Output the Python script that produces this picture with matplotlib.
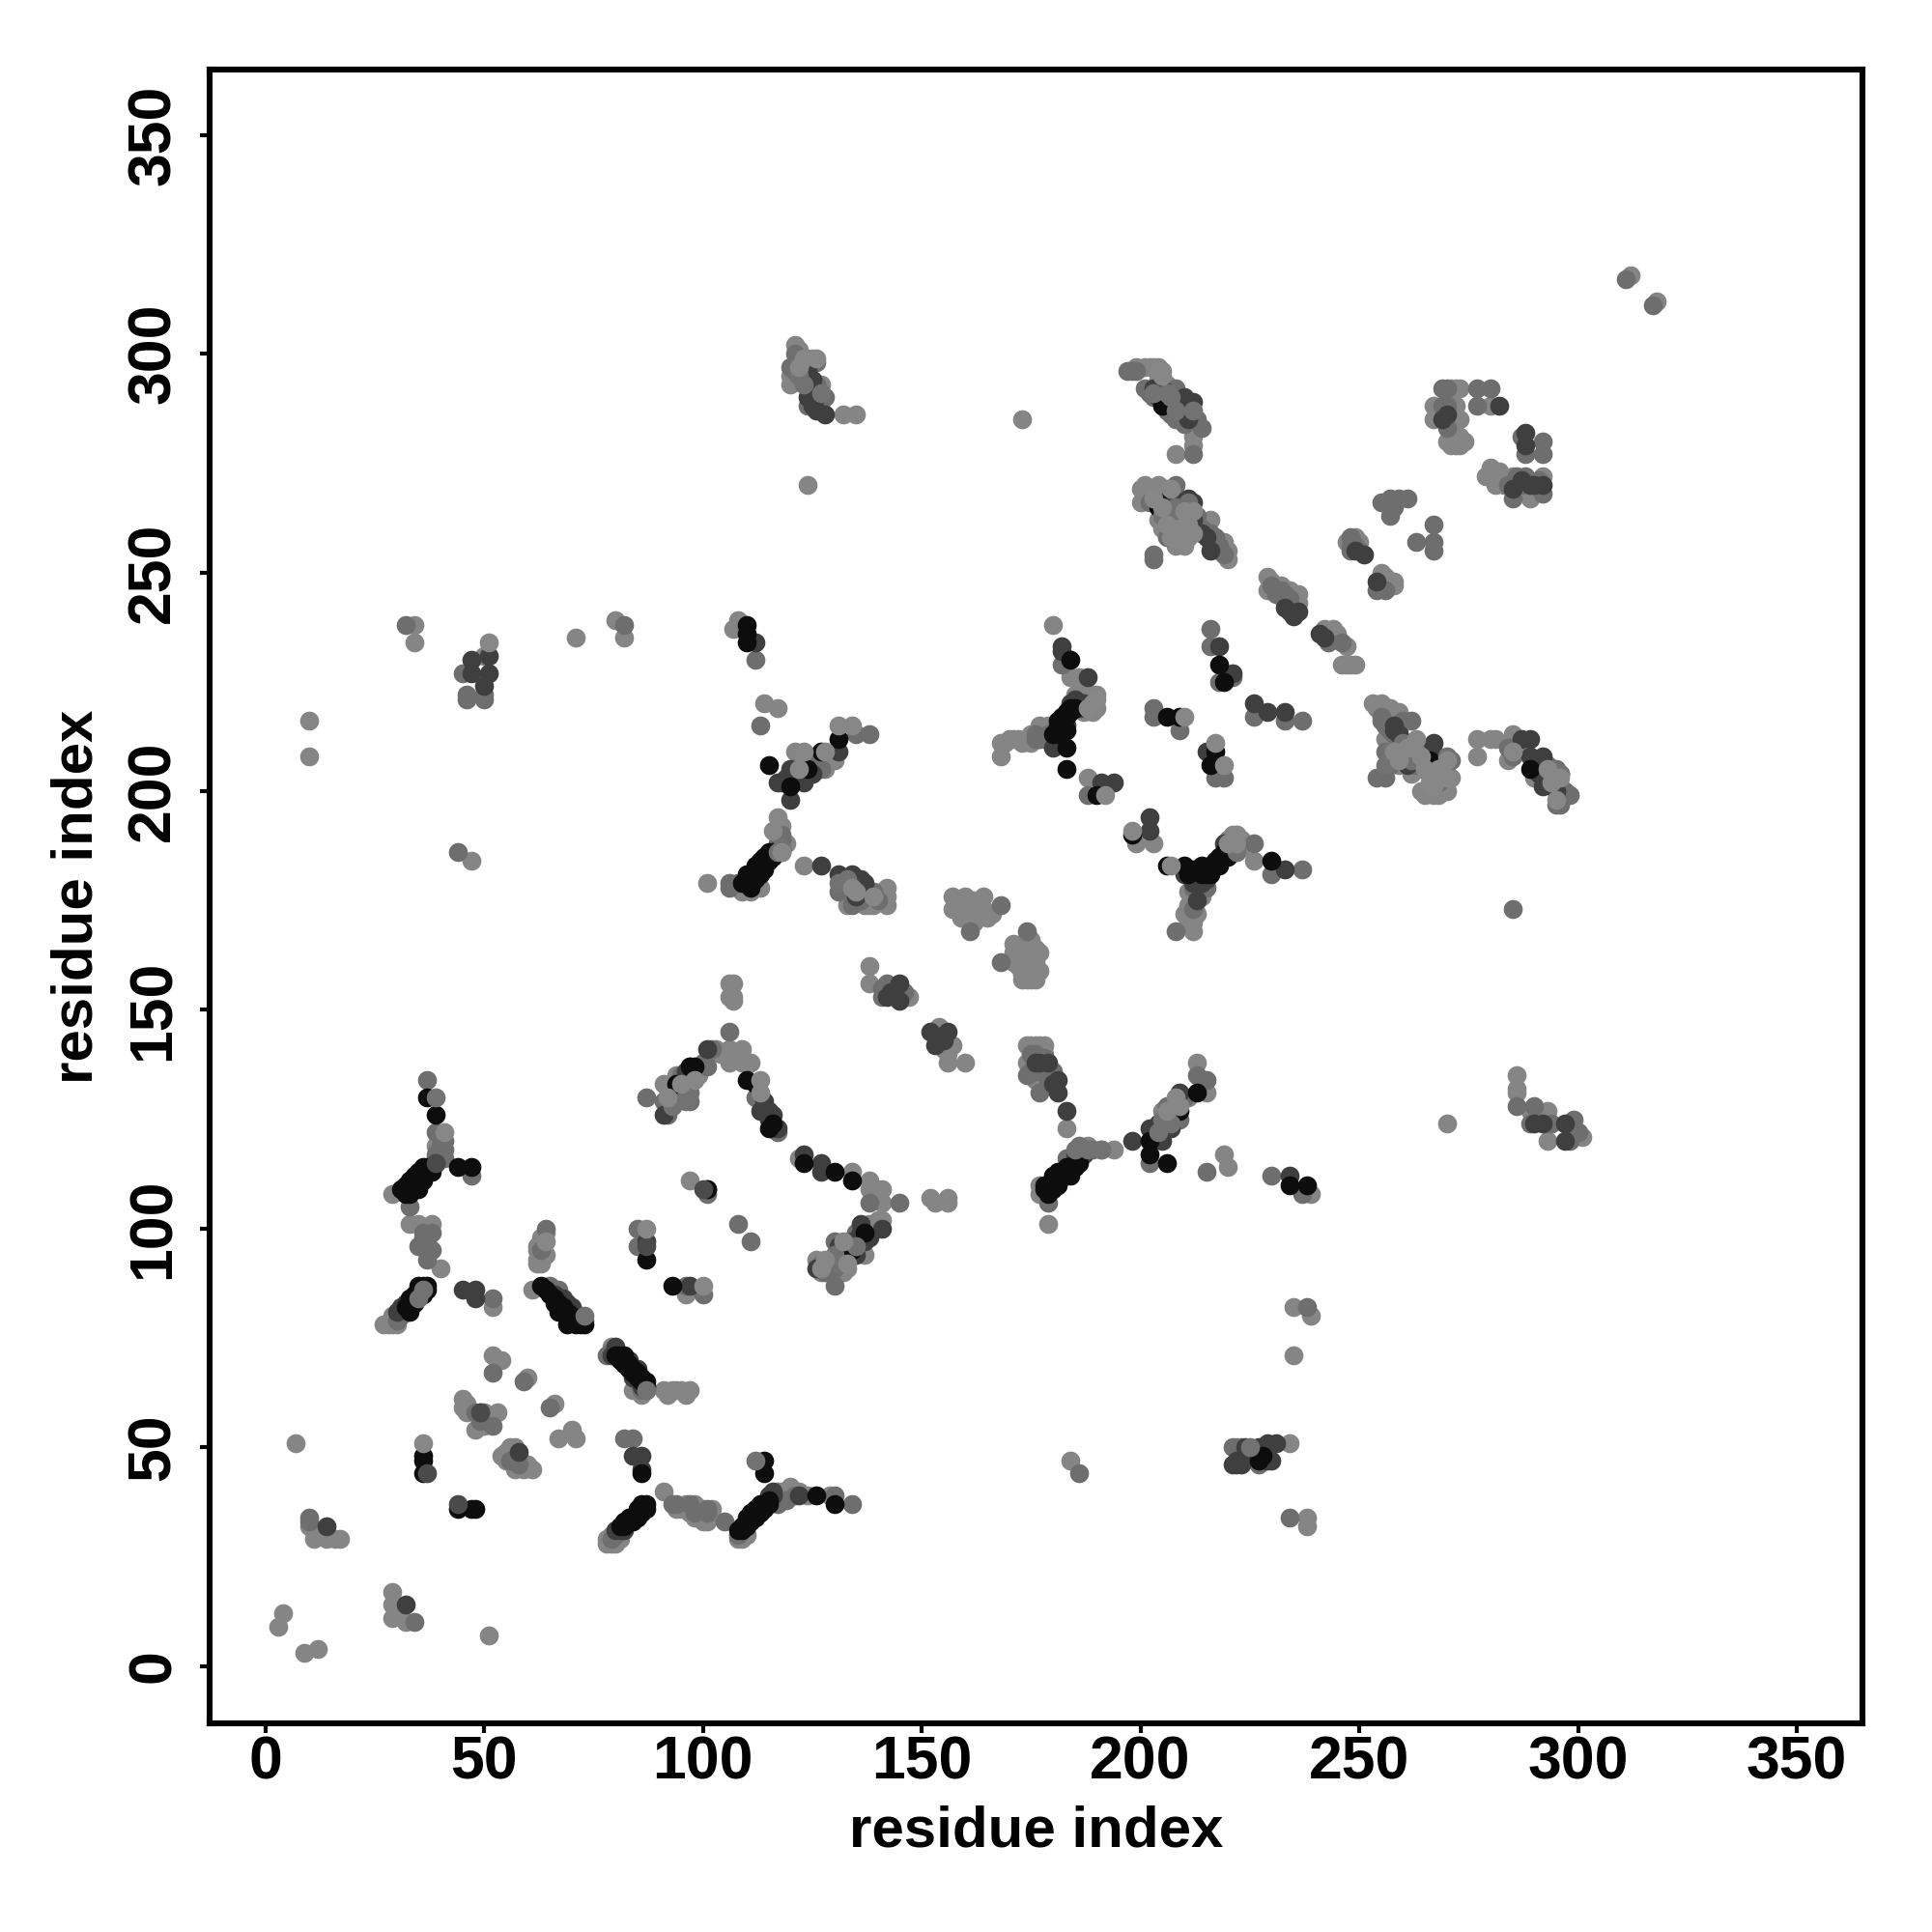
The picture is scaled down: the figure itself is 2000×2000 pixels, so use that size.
"""
Residue contact map, grey shade = contact strength.
"""
import matplotlib
matplotlib.use("Agg")
import matplotlib.pyplot as plt

plt.rcParams["font.family"] = ["Liberation Sans", "DejaVu Sans"]
plt.rcParams["font.weight"] = "bold"

# (residue, residue), grouped by grey level
light = [
    (4, 12), (3, 9), (9, 3), (12, 4), (51, 7), (29, 17), (29, 14), (29, 11), (32, 10), (30, 13),
    (7, 51), (10, 32), (11, 29), (14, 29), (16, 29), (17, 29), (54, 48), (56, 50), (57, 45), (59, 45), (61, 45),
    (67, 52), (70, 54), (71, 52), (45, 61), (45, 59), (48, 54), (52, 71), (54, 70),
    (60, 66), (66, 60), (91, 40), (97, 35), (100, 33), (95, 36), (108, 29), (109, 31),
    (79, 28), (78, 29), (79, 30), (86, 62), (84, 63), (91, 63), (93, 63), (96, 62), (61, 86),
    (27, 78), (29, 80), (52, 82), (33, 101), (35, 101), (62, 96), (63, 93), (62, 93),
    (97, 111), (29, 108), (96, 85),
    (10, 216), (10, 208), (47, 184), (34, 238), (34, 234), (50, 231), (71, 235), (80, 239), (82, 235),
    (108, 239), (107, 237), (114, 220), (117, 219), (101, 179), (109, 177), (111, 177),
    (106, 156), (107, 156), (106, 153), (107, 152), (107, 153), (106, 141), (106, 138), (109, 141), (111, 138), (109, 138),
    (91, 133), (94, 130), (40, 91), (39, 119),
    (123, 183), (142, 178), (142, 176), (142, 174), (138, 174), (138, 176), (134, 177),
    (157, 176), (157, 173), (160, 176), (164, 176), (161, 173), (164, 173), (165, 171), (161, 171), (163, 171),
    (171, 165), (171, 161), (176, 164), (176, 161), (173, 157), (176, 157), (173, 161), (176, 159), (172, 163), (171, 163),
    (138, 160), (138, 156), (180, 238), (168, 211), (168, 208), (171, 212), (174, 212), (177, 215), (184, 226), (186, 226),
    (186, 221), (188, 221), (188, 203), (199, 188), (203, 188),
    (253, 220), (255, 220), (257, 219), (256, 218), (258, 216), (257, 210), (259, 206), (262, 204), (270, 204), (266, 200), (270, 200),
    (277, 212), (280, 212), (281, 212), (277, 208), (285, 212), (285, 213),
    (201, 297), (202, 297), (205, 296), (212, 281), (212, 279), (208, 277),
    (201, 270), (200, 266), (204, 270), (204, 262), (216, 262), (219, 257), (220, 255), (220, 253),
    (229, 249), (229, 246), (232, 247), (235, 245), (236, 243), (243, 236), (245, 236), (246, 229), (249, 229), (247, 233),
    (247, 257), (255, 249), (256, 249), (258, 247), (255, 247),
    (272, 292), (267, 288), (272, 288), (267, 285), (272, 285), (270, 280), (272, 279), (274, 280),
    (280, 288), (280, 274), (279, 272), (281, 270), (285, 272), (289, 267), (292, 272),
    (212, 168), (212, 170), (211, 174), (226, 184), (222, 190), (221, 189), (296, 201), (296, 199),
    (157, 142), (156, 138), (160, 138), (147, 153), (174, 142), (177, 142), (178, 142), (174, 138), (177, 135),
    (183, 123), (213, 138), (215, 131), (205, 127), (194, 118), (188, 119), (177, 110), (177, 108), (179, 101),
    (219, 117), (220, 114), (239, 108), (235, 82), (239, 80), (235, 71), (238, 34), (238, 32), (184, 47), (234, 51), (222, 50),
    (118, 40), (122, 40), (119, 39), (122, 116), (134, 113), (138, 111), (141, 109), (138, 109), (141, 106),
    (152, 107), (153, 106), (156, 107), (156, 106), (141, 102), (138, 101), (137, 98), (137, 94), (126, 93), (133, 91),
    (121, 302), (124, 299), (125, 299), (120, 293), (127, 293), (127, 289), (132, 286), (135, 286), (124, 270), (173, 285),
    (286, 135), (286, 132), (286, 131), (289, 127), (293, 127), (293, 120), (301, 121), (299, 121), (270, 124),
    (318, 312), (312, 318),
    # denser parts of the clusters
    (28, 78), (29, 78), (30, 78), (79, 73), (78, 28), (80, 29), (80, 28), (81, 29), (109, 29), (110, 30),
    (108, 178), (112, 178), (113, 178), (187, 222), (189, 222), (190, 222), (188, 222), (220, 189), (223, 189),
    (222, 189), (223, 187), (222, 186), (221, 190), (214, 176), (210, 172), (211, 170), (213, 172), (212, 175),
    (211, 177), (213, 177), (214, 177), (92, 128), (92, 132), (95, 131), (96, 133), (93, 132), (99, 135), (94, 135),
    (103, 141), (104, 140), (107, 139), (38, 101), (46, 60), (46, 58), (50, 58), (50, 55), (51, 57), (49, 55), (53, 58),
    (55, 47), (58, 48), (55, 49), (57, 50), (60, 46), (62, 95), (64, 99), (63, 98), (64, 94), (63, 92), (62, 92),
    (92, 62), (94, 63), (97, 63), (95, 63), (129, 90), (127, 90), (132, 90), (136, 95), (139, 100), (140, 102),
    (121, 209), (126, 208), (128, 205), (130, 207), (141, 177), (137, 174), (133, 174), (139, 174), (154, 146),
    (155, 141), (156, 142), (156, 140), (175, 142), (176, 142), (176, 134), (178, 140), (207, 127), (211, 130),
    (202, 268), (203, 266), (200, 269), (205, 268), (206, 269), (206, 264), (205, 260), (208, 261), (210, 259), (208, 256),
    (199, 297), (203, 297), (204, 297), (204, 294), (206, 293), (212, 283), (213, 283), (230, 248), (233, 246), (234, 246),
    (235, 243), (236, 245), (242, 237), (244, 235), (248, 229), (247, 229), (244, 237), (249, 258), (250, 257),
    (256, 248), (257, 247), (258, 248), (255, 250), (254, 219), (256, 219), (257, 217), (259, 218), (258, 214), (256, 216),
    (256, 212), (259, 212), (258, 208), (264, 205), (269, 202), (271, 203), (267, 199), (268, 199), (265, 199), (264, 200),
    (286, 210), (284, 207), (290, 203), (282, 271), (283, 270), (281, 273), (282, 273), (283, 271), (271, 292), (273, 292),
    (271, 288), (273, 285), (271, 281), (273, 279), (271, 279), (273, 281), (120, 295), (122, 301), (158, 175), (159, 174),
    (162, 175), (160, 172), (162, 170), (159, 171), (163, 175), (166, 172), (162, 174), (172, 160), (174, 159), (175, 158),
    (174, 157), (175, 157), (177, 163), (175, 166), (173, 165), (177, 159), (174, 163), (173, 158), (120, 41), (117, 40),
    (116, 38), (124, 39), (129, 39), (94, 36), (96, 37), (98, 37), (99, 36), (98, 34), (101, 33), (102, 36), (100, 36), (99, 34),
    (117, 190), (118, 192), (119, 188), (118, 188), (185, 222), (187, 218), (188, 220), (189, 218), (187, 221), (186, 220),
    (190, 219), (169, 211), (170, 212), (172, 212), (173, 211), (175, 211), (177, 212), (179, 215), (178, 214), (175, 213),
]
mid = [
    (34, 10), (10, 34), (10, 33), (52, 67), (59, 65), (65, 59), (82, 52), (84, 52), (93, 37), (97, 37), (101, 35), (105, 33),
    (80, 30), (78, 71), (79, 72), (87, 63), (65, 87), (67, 86), (52, 84), (37, 93), (37, 97), (35, 96),
    (64, 100), (63, 95), (85, 100), (85, 96), (101, 108), (108, 101), (111, 97), (96, 87), (100, 85), (33, 105), (47, 112),
    (44, 186), (32, 238), (45, 227), (46, 222), (46, 221), (50, 222), (50, 221), (82, 238), (112, 230), (113, 215),
    (106, 179), (106, 178), (106, 145), (102, 141), (101, 137), (97, 129), (87, 130), (91, 129), (37, 134), (39, 122),
    (41, 118), (39, 115), (131, 177), (134, 174), (161, 168), (168, 174), (174, 168), (168, 161),
    (142, 156), (141, 153), (118, 190), (118, 189), (127, 205), (135, 213), (138, 213),
    (182, 229), (188, 199), (176, 213), (203, 219), (203, 217), (209, 214), (216, 237), (216, 233), (221, 226), (218, 225),
    (217, 203), (219, 203), (226, 217), (233, 216), (237, 216), (262, 216), (257, 206), (254, 203), (256, 203), (285, 208),
    (197, 296), (201, 292), (208, 292), (208, 285), (213, 285), (212, 277), (208, 270), (203, 254), (203, 253),
    (217, 258), (218, 255), (249, 256), (255, 266), (257, 266), (257, 263), (261, 267), (267, 261), (263, 257), (267, 257), (267, 255),
    (270, 292), (270, 288), (277, 292), (280, 292), (277, 288), (287, 281), (292, 280), (288, 277), (292, 277), (288, 272), (285, 267),
    (208, 168), (215, 178), (212, 173), (226, 188), (237, 182), (230, 181), (295, 205), (296, 197), (295, 197), (285, 173),
    (174, 135), (177, 131), (179, 134), (213, 135), (215, 134), (209, 125), (205, 124), (202, 115), (191, 118), (179, 106),
    (215, 113), (230, 112), (237, 108), (238, 82), (234, 34), (186, 44), (221, 50), (227, 46),
    (130, 39), (134, 37), (145, 106), (138, 106), (133, 97), (130, 97), (130, 93), (130, 91), (128, 92), (130, 87),
    (120, 297), (121, 300), (124, 288), (128, 290), (311, 317), (317, 311),
    (286, 128), (290, 128), (289, 124), (294, 124), (299, 125), (298, 120), (300, 122),
    # denser parts of the clusters
    (30, 79), (31, 80), (73, 79), (86, 63), (85, 65), (79, 29), (108, 30), (108, 179), (189, 118), (183, 116),
    (179, 213), (178, 212), (177, 212), (176, 212), (187, 219), (212, 178), (213, 178), (92, 126), (93, 128), (96, 131),
    (100, 138), (95, 135), (112, 130), (117, 122), (40, 119), (41, 120), (39, 117), (41, 116), (40, 117), (38, 99), (36, 98),
    (37, 95), (36, 99), (38, 95), (48, 58), (49, 56), (52, 55), (56, 47), (58, 46), (57, 47), (127, 92), (128, 90), (129, 92),
    (131, 95), (132, 95), (135, 99), (125, 208), (126, 206), (133, 178), (135, 179), (136, 175), (139, 177), (140, 175),
    (136, 178), (141, 155), (146, 154), (175, 140), (175, 136), (176, 140), (176, 136), (178, 136), (178, 139), (180, 136),
    (204, 121), (206, 128), (210, 130), (202, 266), (205, 264), (207, 268), (209, 262), (209, 265), (207, 260), (206, 258),
    (211, 260), (211, 264), (210, 258), (213, 263), (214, 260), (216, 259), (216, 257), (218, 256), (219, 254), (217, 256),
    (198, 296), (199, 296), (203, 290), (202, 291), (203, 292), (206, 287), (207, 286), (210, 287), (209, 285), (210, 284),
    (214, 283), (230, 247), (231, 245), (233, 245), (234, 244), (233, 243), (232, 246), (243, 234), (246, 234), (248, 258),
    (248, 255), (250, 255), (248, 256), (256, 246), (254, 246), (255, 217), (256, 215), (257, 214), (259, 214), (260, 216),
    (255, 216), (258, 213), (256, 209), (257, 209), (258, 209), (259, 209), (260, 210), (261, 207), (263, 206), (263, 209),
    (264, 210), (262, 210), (265, 206), (268, 208), (269, 206), (268, 202), (271, 207), (284, 210), (293, 206), (294, 203),
    (296, 204), (295, 203), (296, 200), (297, 200), (298, 199), (284, 270), (287, 270), (291, 271), (286, 272), (292, 268),
    (269, 288), (269, 292), (270, 283), (257, 267), (258, 265), (259, 267), (123, 296), (122, 295), (125, 291), (121, 296),
    (122, 298), (126, 298), (126, 293), (127, 291), (119, 38), (121, 39), (117, 37), (94, 37), (98, 35), (101, 36),
    (223, 50), (117, 188), (117, 187),
]
dark = [
    (14, 32), (32, 14), (58, 49), (49, 58), (84, 48), (86, 48), (86, 45), (101, 109), (81, 31), (80, 73), (85, 68),
    (68, 84), (70, 82), (45, 86), (48, 86), (48, 84), (30, 81), (31, 82), (87, 97), (97, 87), (39, 115), (32, 83),
    (47, 230), (47, 227), (51, 231), (51, 227), (50, 224), (112, 234), (101, 141), (97, 137), (91, 126), (113, 127), (115, 127), (116, 126), (117, 123),
    (118, 186), (120, 205), (120, 198), (117, 202), (123, 202), (131, 209), (127, 183), (131, 181), (134, 181), (137, 179), (135, 176),
    (145, 156), (142, 153), (145, 152), (152, 145), (156, 145), (153, 142),
    (182, 233), (182, 232), (188, 226), (183, 215), (180, 210), (191, 202), (194, 202), (202, 194), (202, 191),
    (218, 233), (221, 227), (226, 220), (229, 218), (233, 218), (215, 209), (261, 211), (262, 208), (267, 211), (254, 248), (258, 215),
    (289, 212), (289, 208), (292, 205), (292, 208), (292, 201), (287, 212),
    (205, 292), (209, 289), (212, 289), (208, 289), (211, 285), (207, 266), (211, 267), (211, 262), (211, 258), (215, 258), (235, 240), (241, 236), (249, 255),
    (282, 288), (288, 282), (288, 279), (285, 269), (289, 270), (292, 270),
    (210, 181), (213, 181), (219, 188), (233, 182), (213, 175),
    (177, 138), (179, 138), (181, 134), (181, 131), (183, 127), (209, 131), (202, 123), (205, 120), (198, 120), (204, 124),
    (234, 112), (224, 50), (227, 50), (230, 47), (231, 51), (221, 46), (222, 46),
    (123, 117), (127, 115), (127, 113), (136, 101), (141, 100), (137, 97), (134, 97), (126, 91),
    (116, 39), (122, 39), (124, 296), (124, 293), (124, 290), (128, 286),
    (290, 124), (292, 124), (297, 124), (297, 120),
    # denser parts of the clusters
    (66, 85), (69, 83), (72, 80), (79, 71), (80, 72), (82, 70), (83, 70), (84, 66), (86, 64), (80, 31), (81, 32), (82, 31),
    (115, 39), (116, 40), (117, 186), (186, 116), (187, 117), (186, 118), (187, 118), (185, 117), (184, 220), (186, 219),
    (185, 221), (187, 220), (212, 179), (214, 179), (215, 180), (221, 187), (222, 188), (97, 134), (96, 136), (114, 129),
    (115, 125), (131, 96), (134, 95), (135, 94), (136, 99), (138, 98), (118, 202), (119, 203), (125, 204), (133, 180),
    (136, 180), (143, 154), (144, 153), (154, 144), (155, 143), (176, 138), (180, 133), (207, 126), (207, 123), (203, 121),
    (208, 263), (206, 263), (210, 260), (212, 262), (209, 266), (212, 266), (210, 265), (214, 259), (216, 255), (203, 292),
    (204, 290), (206, 290), (210, 290), (205, 290), (211, 287), (234, 241), (236, 241), (233, 242), (242, 235), (251, 254),
    (258, 214), (259, 213), (260, 208), (263, 208), (264, 207), (261, 206), (267, 205), (265, 209), (266, 209), (290, 207),
    (291, 206), (291, 204), (293, 203), (295, 200), (287, 271), (290, 270), (269, 285), (270, 286), (123, 295), (125, 294),
    (126, 290), (126, 287), (125, 288), (226, 49), (229, 51), (229, 47), (222, 47), (223, 46), (115, 38),
]
black = [
    (36, 48), (36, 47), (36, 44), (44, 36), (47, 36), (48, 36), (86, 44), (87, 93), (93, 87), (101, 109),
    (82, 32), (83, 33), (84, 33), (84, 34), (85, 35), (86, 35), (86, 36), (87, 36), (87, 37),
    (108, 31), (109, 32), (110, 33), (111, 34), (112, 35), (113, 36), (114, 37), (115, 38), (114, 47), (114, 44),
    (81, 70), (82, 71), (83, 69), (84, 68), (85, 66), (86, 66), (87, 64),
    (63, 87), (66, 84), (67, 81), (69, 78), (71, 78), (72, 78),
    (33, 84), (35, 86), (36, 87), (37, 87), (35, 87), (34, 83), (36, 86), (44, 114), (47, 114),
    (31, 109), (33, 110), (34, 112), (36, 114), (33, 108), (35, 109), (37, 113), (38, 114),
    (110, 238), (110, 236), (110, 234), (94, 133), (97, 137), (110, 134), (115, 123), (37, 130), (39, 126),
    (109, 179), (110, 180), (111, 181), (112, 182), (113, 183), (114, 184), (114, 185), (115, 186), (111, 178), (112, 180), (113, 181), (114, 182), (116, 185),
    (115, 206), (120, 201), (124, 205), (127, 209), (131, 212), (134, 111), (130, 113), (123, 115), (133, 94),
    (184, 230), (184, 218), (182, 217), (181, 215), (183, 217), (181, 214), (183, 210), (183, 205), (190, 199),
    (198, 190), (206, 183), (210, 183), (206, 217), (209, 217), (217, 209), (216, 206), (218, 229), (219, 225),
    (214, 183), (215, 182), (217, 184), (219, 186), (218, 185), (216, 183), (230, 184),
    (266, 207), (266, 204), (289, 205), (205, 288), (204, 266),
    (213, 131), (209, 127), (202, 120), (202, 117), (206, 115),
    (178, 110), (179, 110), (180, 112), (181, 112), (183, 114), (185, 114), (186, 115), (179, 108), (181, 110), (184, 112), (182, 113),
    (234, 110), (238, 110), (227, 47), (126, 39), (130, 37),
    # denser parts of the bands
    (32, 110), (33, 111), (34, 111), (35, 112), (36, 112), (37, 114), (35, 113), (32, 108), (34, 109), (36, 111), (38, 113),
    (33, 82), (34, 85), (36, 85), (37, 86), (33, 81), (32, 82), (35, 85), (64, 86), (65, 85), (66, 83), (67, 83), (68, 82),
    (69, 81), (70, 79), (70, 80), (71, 79), (72, 79), (73, 78), (80, 71), (81, 71), (82, 69), (83, 68), (84, 67), (85, 67),
    (86, 65), (87, 65), (81, 32), (82, 33), (83, 34), (85, 34), (86, 37), (85, 36), (109, 31), (110, 32), (111, 33), (112, 34),
    (113, 35), (114, 36), (115, 37), (110, 34), (111, 35), (112, 36), (113, 37), (110, 179), (110, 181), (112, 181), (113, 182),
    (114, 183), (115, 184), (115, 185), (112, 183), (113, 184), (116, 186), (180, 110), (180, 111), (181, 111), (182, 112),
    (183, 112), (183, 113), (184, 113), (185, 115), (184, 114), (180, 109), (178, 109), (179, 109), (181, 113), (182, 215),
    (182, 216), (183, 218), (184, 219), (185, 219), (181, 216), (183, 214), (181, 213), (182, 214), (180, 213), (211, 181),
    (212, 182), (213, 182), (214, 181), (215, 181), (216, 181), (216, 182), (217, 183), (218, 183), (218, 184), (219, 185),
    (220, 186), (220, 185), (98, 137), (112, 133), (116, 124), (134, 95), (132, 94), (137, 99), (204, 265), (211, 263), (228, 48),
]
# these sit on top of the black bands and the dark clusters
over_dark = [(37, 44), (44, 37), (39, 115), (87, 96), (49, 58), (100, 109)]
over_mid = [
    (73, 80), (87, 63), (39, 130), (112, 47), (118, 187), (117, 186), (186, 119), (185, 118), (188, 118), (191, 118), (222, 186), (35, 84), (36, 86),
    (208, 265), (211, 266), (208, 262), (211, 260), (205, 263), (270, 208), (262, 207), (257, 209), (260, 211), (263, 209), (256, 206),
    (212, 287), (208, 287), (207, 290), (203, 291), (206, 291), (225, 50), (133, 180), (131, 179), (123, 293), (127, 291), (122, 295),
    (97, 131), (93, 128), (96, 129), (135, 96), (130, 94), (131, 92), (204, 122), (207, 124), (205, 125), (296, 204),
]
over_light = [
    (36, 51), (87, 100), (51, 234), (113, 134), (113, 131), (209, 128), (210, 217), (217, 211), (219, 206), (192, 199), (198, 191),
    (207, 183), (64, 97), (100, 87), (41, 122), (128, 209), (131, 215), (134, 215), (123, 209), (190, 221), (189, 220), (188, 219),
    (222, 190), (220, 188), (222, 188), (118, 186), (117, 194), (116, 191), (122, 205),
    (203, 267), (205, 265), (207, 269), (210, 264), (212, 264), (209, 260), (207, 258), (211, 258), (210, 256), (212, 259), (211, 261), (206, 261),
    (263, 212), (261, 210), (258, 209), (259, 207), (264, 208), (268, 205), (270, 207), (270, 203), (266, 202), (265, 205), (267, 201),
    (204, 296), (205, 295), (135, 177), (139, 176), (134, 178), (123, 299), (122, 297), (126, 299),
    (92, 130), (95, 133), (98, 134), (128, 93), (133, 92), (132, 97), (127, 91), (206, 127), (208, 130),
    (294, 202), (296, 203), (285, 209), (295, 198), (293, 205),
]

GROUPS = [
    (light, "#858585"),
    (mid, "#6e6e6e"),
    (dark, "#3f3f3f"),
    (black, "#0d0d0d"),
    (over_dark, "#4a4a4a"),
    (over_mid, "#727272"),
    (over_light, "#878787"),
]
ticks = [0, 50, 100, 150, 200, 250, 300, 350]

fig = plt.figure(figsize=(10, 10), dpi=200)
ax = fig.add_axes([216.7 / 2000, 216 / 2000, 1711.3 / 2000, 1712.3 / 2000])

for points, colour in GROUPS:
    xs, ys = zip(*points)
    ax.scatter(xs, ys, s=50, c=colour, linewidths=0)

ax.set_xlim(-12.8, 365)
ax.set_ylim(-13.1, 365)
ax.set_xticks(ticks)
ax.set_yticks(ticks)
ax.tick_params(axis="both", width=1.5, length=3.6, labelsize=22.5)
ax.tick_params(axis="x", pad=0.5)
ax.tick_params(axis="y", pad=6.5)
for label in ax.get_yticklabels():
    label.set_rotation(90)
    label.set_verticalalignment("center")
for side in ax.spines.values():
    side.set_linewidth(2.2)

ax.set_xlabel("residue index", fontsize=21.6, fontweight="bold", labelpad=5)
ax.set_ylabel("residue index", fontsize=21.6, fontweight="bold", labelpad=8)

fig.savefig("out.png", dpi=200)
